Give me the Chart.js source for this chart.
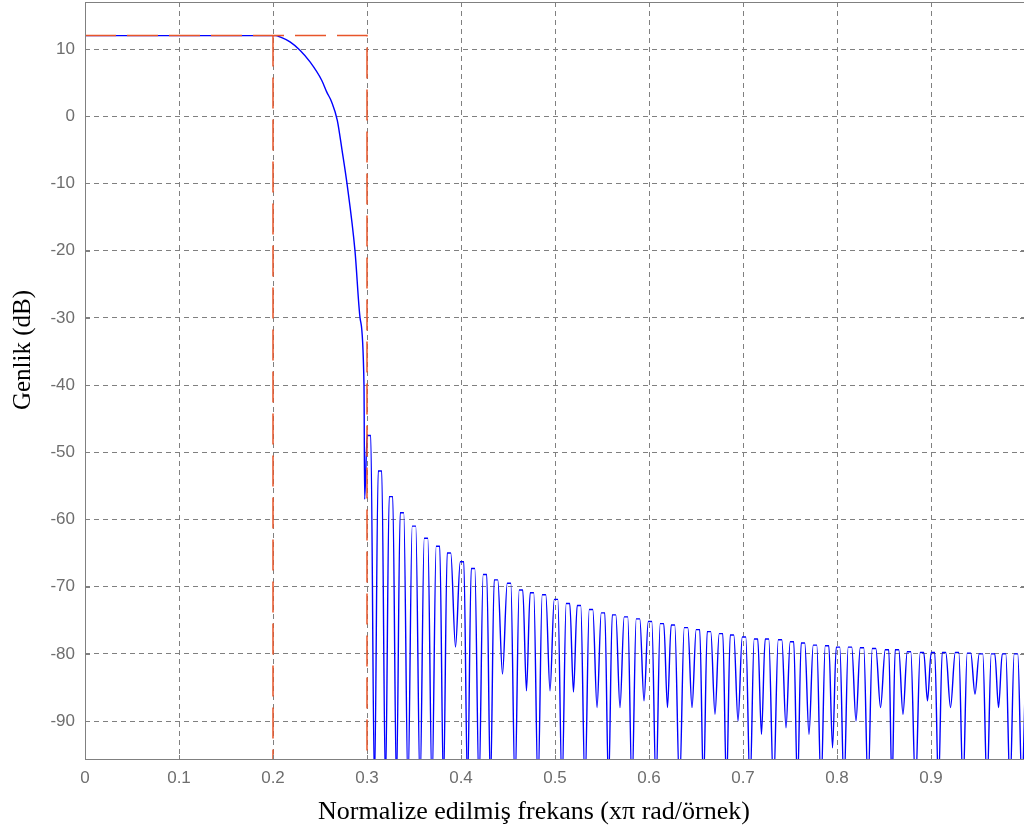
<!DOCTYPE html>
<html>
<head>
<meta charset="utf-8">
<script src="https://cdn.jsdelivr.net/npm/chart.js@4.4.1/dist/chart.umd.min.js"></script>
<style>
html, body { margin: 0; padding: 0; background: #fff; overflow: hidden; }
canvas { display: block; }
</style>
</head>
<body>
<canvas id="freqChart" width="1040" height="831"></canvas>
<script>
// passband + transition band
const rollFreq = [0, 0.05, 0.10, 0.15, 0.20, 0.203, 0.2074, 0.2181, 0.2287, 0.2394, 0.2518, 0.2571, 0.2624, 0.2684, 0.2734, 0.2787, 0.2872, 0.2926, 0.2968, 0.2975];
const rollDb   = [12, 12, 12, 12, 12, 12, 11.8, 11.06, 9.82, 8.08, 5.36, 3.62, 2.13, -0.6, -5, -10, -20, -30, -40, -57];

// stopband side lobes: peak positions and peak levels (tops are flat, ~4px wide)
const lobeFreq = [0.3021, 0.3138, 0.3255, 0.3372, 0.3500, 0.3628, 0.3755, 0.3872, 0.4011, 0.4128,
                  0.4255, 0.4372, 0.4511, 0.4638, 0.4755, 0.4883, 0.5011, 0.5138, 0.5255, 0.5383,
                  0.5511, 0.5628, 0.5755, 0.5883, 0.6011, 0.6138, 0.6255, 0.6394, 0.6521, 0.6638,
                  0.6766, 0.6883, 0.7011, 0.7138, 0.7255, 0.7394, 0.7521, 0.7638, 0.7766, 0.7894,
                  0.8011, 0.8138, 0.8266, 0.8394, 0.8532, 0.8638, 0.8766, 0.8904, 0.9021, 0.9138,
                  0.9277, 0.9404, 0.9532, 0.9660, 0.9777, 0.9904];
const lobeDb   = [-47.5, -52.8, -56.6, -59, -61, -62.8, -64, -65, -66.3, -67.3,
                  -68.2, -69, -69.5, -70.5, -70.9, -71.2, -71.9, -72.5, -72.8, -73.4,
                  -73.9, -74.2, -74.5, -74.8, -75.2, -75.5, -75.7, -76.1, -76.4, -76.7,
                  -77, -77.2, -77.5, -77.8, -77.8, -77.9, -78.2, -78.4, -78.7, -78.8,
                  -79, -79, -79.1, -79.2, -79.4, -79.4, -79.7, -79.8, -79.8, -79.8,
                  -79.8, -79.9, -80, -80, -80, -80];
// level of the dip between lobe i and lobe i+1 (-100 = goes off the bottom)
const nullDb   = [-100, -100, -100, -100, -100, -100, -100, -79, -100, -100,
                  -100, -83, -100, -85.5, -100, -85.5, -100, -85.7, -100, -88,
                  -100, -88, -100, -87, -100, -88, -100, -88, -100, -89,
                  -100, -90, -100, -92, -100, -91, -100, -92, -100, -94,
                  -100, -90, -100, -88, -100, -89, -100, -87, -100, -88,
                  -100, -86, -100, -88, -100];
const tailFreq = [0.9968, 1.0];
const tailDb   = [-100, -86];
const lobeTopHalf = 0.0019;

// specification mask (red dashed)
const passEdge = 0.2;
const stopEdge = 0.3;
const maskLevel = 12;

const xTicks = [0, 0.1, 0.2, 0.3, 0.4, 0.5, 0.6, 0.7, 0.8, 0.9, 1];
const xTickLabels = ['0', '0.1', '0.2', '0.3', '0.4', '0.5', '0.6', '0.7', '0.8', '0.9', ''];
const yTicks = [-90, -80, -70, -60, -50, -40, -30, -20, -10, 0, 10];

const xTitle = 'Normalize edilmiş frekans (xπ rad/örnek)';
const yTitle = 'Genlik (dB)';

// build the response line
const response = rollFreq.map((f, i) => ({x: f, y: rollDb[i]}));
lobeFreq.forEach((f, i) => {
  response.push({x: f - lobeTopHalf, y: lobeDb[i]});
  response.push({x: f + lobeTopHalf, y: lobeDb[i]});
  if (i < lobeFreq.length - 1) {
    response.push({x: (f + lobeFreq[i + 1]) / 2, y: nullDb[i]});
  }
});
tailFreq.forEach((f, i) => response.push({x: f, y: tailDb[i]}));

const GRID = '#808080';

const frame = {
  id: 'frame',
  afterDraw(chart) {
    const ctx = chart.ctx;
    const a = chart.chartArea;
    const x = chart.scales.x, y = chart.scales.y;
    ctx.save();
    ctx.strokeStyle = GRID;
    ctx.lineWidth = 1;
    ctx.strokeRect(a.left + 0.5, a.top + 0.5, a.right - a.left - 1, a.bottom - a.top - 1);
    ctx.beginPath();
    xTicks.forEach(v => {
      const px = Math.round(x.getPixelForValue(v)) + 0.5;
      ctx.moveTo(px, a.bottom); ctx.lineTo(px, a.bottom - 5);
      ctx.moveTo(px, a.top); ctx.lineTo(px, a.top + 5);
    });
    yTicks.forEach(v => {
      const py = Math.round(y.getPixelForValue(v)) + 0.5;
      ctx.moveTo(a.left, py); ctx.lineTo(a.left + 5, py);
      ctx.moveTo(a.right, py); ctx.lineTo(a.right - 5, py);
    });
    ctx.stroke();

    ctx.fillStyle = '#000';
    ctx.textAlign = 'center';
    ctx.textBaseline = 'middle';
    ctx.font = '26px "Liberation Serif"';
    ctx.fillText(xTitle, 534, 812);
    ctx.font = '25px "Liberation Serif"';
    ctx.translate(23, 350);
    ctx.rotate(-Math.PI / 2);
    ctx.fillText(yTitle, 0, 0);
    ctx.restore();
  }
};

const ctx1 = document.getElementById('freqChart').getContext('2d');
const chart1 = new Chart(ctx1, {
  type: 'line',
  data: {
    datasets: [
      {
        // mask drawn on top of the response
        data: [{x: 0, y: maskLevel}, {x: stopEdge, y: maskLevel}, {x: stopEdge, y: -130}],
        borderColor: '#e8552a',
        borderWidth: 1.5,
        borderDash: [31, 11],
        pointRadius: 0,
        tension: 0
      },
      {
        data: [{x: passEdge, y: maskLevel}, {x: passEdge, y: -130}],
        borderColor: '#e8552a',
        borderWidth: 1.5,
        borderDash: [31, 11],
        pointRadius: 0,
        tension: 0
      },
      {
        data: response,
        borderColor: '#0000ff',
        borderWidth: 1.4,
        pointRadius: 0,
        cubicInterpolationMode: 'monotone'
      }
    ]
  },
  options: {
    responsive: false,
    animation: false,
    events: [],
    layout: { padding: { top: 2, right: 15, left: 0, bottom: 0 } },
    plugins: { legend: { display: false }, tooltip: { enabled: false } },
    scales: {
      x: {
        type: 'linear',
        min: 0,
        max: 1,
        afterBuildTicks: s => { s.ticks = xTicks.map(v => ({value: v})); },
        afterFit: s => { s.height = 71; s.paddingLeft = 0; s.paddingRight = 0; },
        grid: { color: GRID, drawTicks: false, lineWidth: 1 },
        border: { display: false, dash: [5, 4] },
        ticks: {
          padding: 8,
          color: '#6e6e6e',
          font: { family: '"Liberation Sans"', size: 17 },
          maxRotation: 0,
          autoSkip: false,
          callback: (v, i) => xTickLabels[i]
        }
      },
      y: {
        type: 'linear',
        min: -95.8,
        max: 17,
        afterBuildTicks: s => { s.ticks = yTicks.map(v => ({value: v})); },
        afterFit: s => { s.width = 85; s.paddingTop = 0; s.paddingBottom = 0; },
        grid: { color: GRID, drawTicks: false, lineWidth: 1 },
        border: { display: false, dash: [5, 4] },
        ticks: {
          padding: 10,
          color: '#6e6e6e',
          font: { family: '"Liberation Sans"', size: 17 },
          autoSkip: false,
          callback: v => String(v)
        }
      }
    }
  },
  plugins: [frame]
});
</script>
</body>
</html>
